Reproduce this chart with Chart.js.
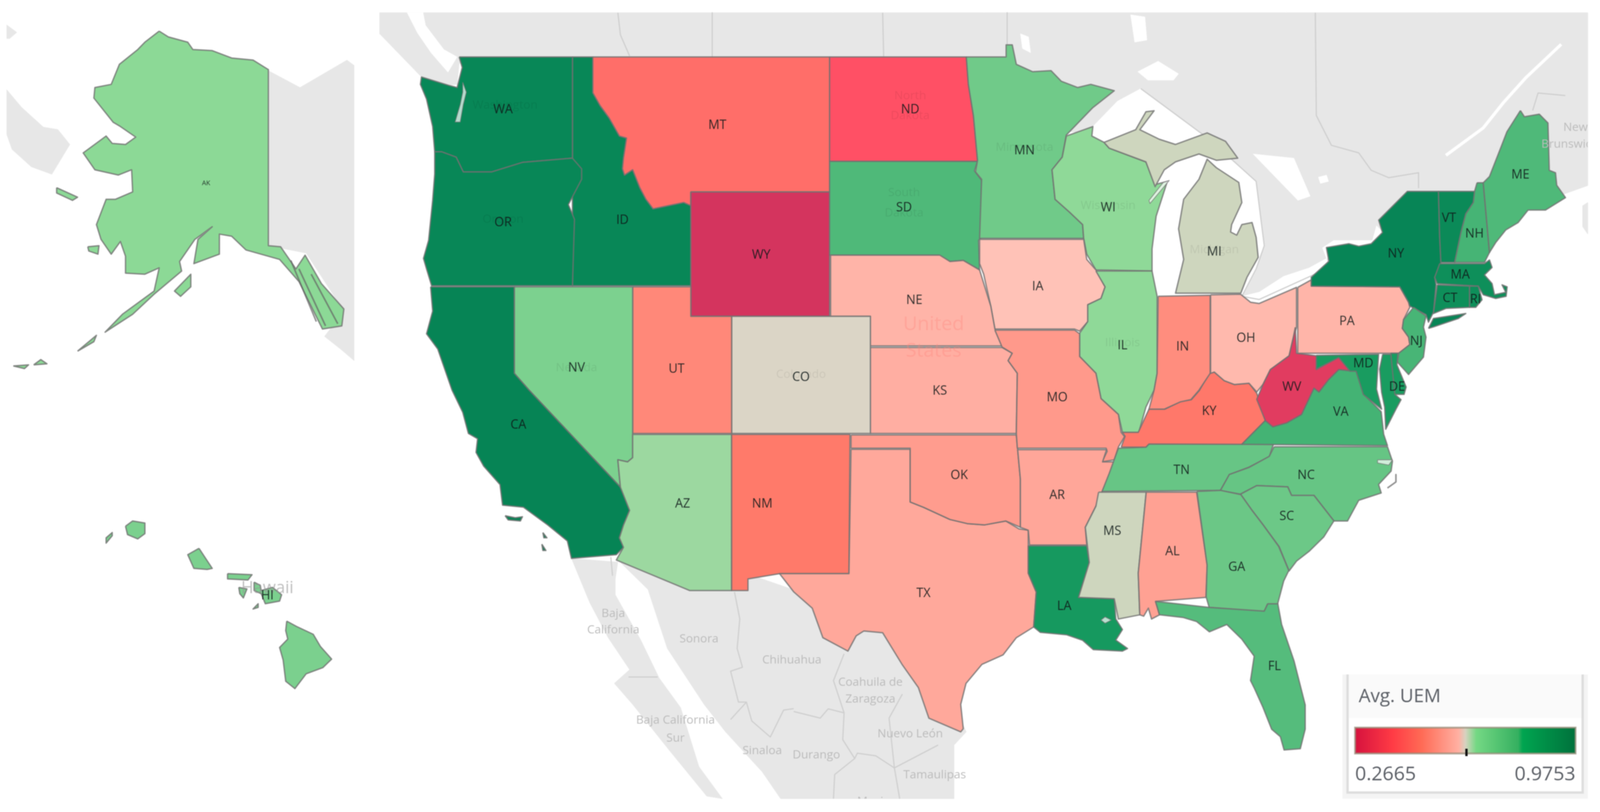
<!DOCTYPE html>
<html>
<head>
<meta charset="utf-8">
<title>Avg. UEM by state</title>
<script src="https://cdn.jsdelivr.net/npm/chart.js@4/dist/chart.umd.min.js"></script>
<style>
  html, body { margin: 0; padding: 0; background: #fff; overflow: hidden; }
  #map { display: block; filter: blur(1.3px); }
</style>
</head>
<body>
<canvas id="map"></canvas>
<script>
// Avg. UEM per state
const stateCodes = ['AK','AL','AR','AZ','CA','CO','CT','DE','FL','GA','HI','IA','ID','IL','IN','KS','KY','LA','MA','MD','ME','MI','MN','MO','MS','MT','NC','ND','NE','NH','NJ','NM','NV','NY','OH','OK','OR','PA','RI','SC','SD','TN','TX','UT','VA','VT','WA','WI','WV','WY'];
const avgUem = [0.6563,0.5585,0.5692,0.6493,0.9356,0.6209,0.8747,0.8016,0.7258,0.6982,0.6776,0.6110,0.9186,0.6549,0.5181,0.5855,0.4756,0.8194,0.8747,0.8016,0.7336,0.6266,0.6918,0.5429,0.6266,0.4529,0.7038,0.3870,0.5975,0.7450,0.7421,0.4791,0.6762,0.9300,0.6032,0.5486,0.9186,0.5996,0.8747,0.6967,0.7336,0.7031,0.5734,0.5075,0.7471,0.9023,0.9186,0.6549,0.3020,0.2665];
const uemMin = 0.2665;
const uemMax = 0.9753;
const uemMarker = 0.6246;

// colour ramp of the states (position on the legend, r, g, b)
const rampStops = [[0,212,52,94],[0.17,255,80,101],[0.3,255,122,106],[0.47,255,181,169],[0.49,255,197,186],[0.5,219,213,198],[0.55,140,217,150],[0.755,25,156,96],[1,0,125,82]];
const legendStops = [[0,'#d6123e'],[0.17,'#ff3b45'],[0.3,'#ff6a55'],[0.47,'#ffb0a2'],[0.5,'#d8d2c0'],[0.55,'#74d884'],[0.74,'#35b060'],[0.76,'#00a550'],[1,'#00713c']];

// outlines in map units (x, y, x, y ...), map is 1568 x 770 units
const outlines = {
  AK: [[156,29.5,165,35,184,40,189,47,208,48,227,55,248,57,263,66,263,233,275,234,290,255,299,242,315,269,337,293,335,309,316,312,293,267,274,246,241,237,227,224,215,222,215,241,190,250,194,227,208,215,191,227,176,248,178,257,151,279,130,298,103,315,120,298,151,276,156,254,142,260,123,259,123,243,118,229,109,241,99,227,94.5,213,104,189,113,189,130,182,129,161,116,166,93,161,81.5,145,104,129,110,136,123,137,133,130,118,120,111,116,92,93,93,83,109,80,117,61,135,47,142,40],
       [187,260,187,272,177,281,171,276],[55.5,178,76,187,71,190,55.5,183],[86,234,97,233,96,241,87,238],[76,333,94.5,318,92,324],[13,347,28,346,24,349.5],[33,346,40,341,46,345]],
  HI: [[123,499,130,494,142,496,142,506,135,511,125,507],[110,505,110,508,104,515,104,510],[195,520,208,539,203,540,190,539,184,526],[223,544,247,545,243,550,223,549],[234,557,242,558.5,238.5,567,235,563],[249,552,255,555,256,560,267,557,276,564,274,570,260,572.5,256,563,249,560],[253,572.5,253,576,248,577.5],[281,589,290.5,594,307,601.5,314,613,325,625,316.5,633,300,639,289,653,280,646,277.5,626,274,614,282,606,280,598]],
  ID: [[561,54,581,54,581,88,588,100,597,112,607,129,614,131,611,150,610,160,612,166,620,161,627,178,633,189,640,198,650,196,670,192,677,195,677,271,561,271]],
  WA: [[450,54,561,54,561,150,512,154,482,163,454,163,447,149,433,144,426,144,424,120,418,94,412,80,413,73,440,81,448,83,453,64]],
  OR: [[426,144,433,144,447,149,454,163,482,163,512,154,561,150,570,160,570,170,557,194,563,208,561,271,423,271,418,255,415,245,420,228,424,190,426,165]],
  MT: [[581,54,813,54,813,182,677,182,677,195,670,192,650,196,640,198,633,189,627,178,620,161,612,166,610,160,611,150,614,131,607,129,597,112,588,100,581,88]],
  WY: [[677,182,813,182,813,300,677,300]],
  ND: [[813,54,947,54,949,80,954,110,958,153,813,153]],
  SD: [[813,153,958,153,955,162,962,171,962,225,959,228,960,256,944,247,931,248,920,242,813,242]],
  MN: [[947,54,986,54,986,42.5,992,42.5,996,61,1012,68,1030,67,1040,77,1056,83,1069,80,1092,86,1071,102,1045,128,1041,149,1031,161,1034,189,1048,201,1061,213,1062,226,960,226,962,170,956,163,958,152,954,110,949,80]],
  WI: [[1045,129,1071,120,1070,129,1082,135,1087,140.5,1123,153.5,1132,175,1144,172,1133,205,1129,236,1129,257,1074,256,1065,241,1062,226,1061,213,1048,201,1034,189,1031,161,1041,149]],
  MI: [[1082,135,1113,123,1123,106,1131,105,1117,123,1136,132,1152,137,1183,126,1201,134,1213,150,1192,152,1175,146,1152,153.5,1141,161,1132,177,1123,153.5,1087,140.5],
       [1192,159,1214,173,1217,192,1207,213,1206,220,1212,223,1217,213,1227,211,1231,225,1233,244,1222,263,1216,278,1152,278,1160,246,1155,217,1160,189,1175,170,1183,151]],
  IA: [[960,227,1062,227,1065,246,1074,256,1083,272,1079,283,1066,289,1066,305,1058,314,1053,312,975,312,971,290.5,964,260,960,250]],
  IL: [[1074,257,1129,257,1134,281,1134,354,1131,370,1123,386,1116,410,1100,410,1096,393,1079,378,1074,354,1058,338,1058,316,1066,305,1066,289,1079,283,1083,272]],
  NE: [[814,242,921,242,931,248,944,247,960,256,971,290.5,975,312,982,328,853,328,853,300,814,300]],
  KS: [[853,329.5,982,329.5,992,335,988,342,997,354,996,411,853,411]],
  CO: [[717,300,853,300,853,411,717,411]],
  UT: [[620,272,677,272,677,300,717,300,717,411,620,411]],
  NV: [[504,272,620,272,620,434,615,438,605.5,436,608,462,518.5,370,504,354]],
  CA: [[422,272,504,272,504,354,518.5,370,608,462,617,484,611,498,607,510,611,519,604,526,560,529.5,556,513,537,498,513,481,492.5,479,490,459.5,474,442,466.5,429,468,416,459,411,453.5,391,443,370,429,331,418,316.5,424,295],
       [495,489,505,491,512,490,510,494,498,493],[532,505,536,510,533,510],[531,516,535,522,532,522]],
  AZ: [[620,412,717,412,717,560,676,560,604,531,611,519,607,510,611,498,617,484,608,462,605.5,436,615,438,620,434]],
  NM: [[717,412,833,412,832,544,764,544,733,549,733,560,717,560]],
  TX: [[834,426,892,426,892,476,905,481,931,492.6,948,496.5,965,497.7,985.6,494,998.6,501.5,1007.7,502.8,1007.7,543.6,1015.5,561.4,1013,594.5,996,604.7,983,621,962.3,630,946.7,648,941.5,668,944,691,941.5,694,910.3,681,900,652,884,630,865,600,846.6,598.3,839,603,831,617.4,806.4,604.7,796,576.7,778,561.4,764,544,832,544]],
  OK: [[834,412.4,996,412.4,1000,454.4,1000,500,985.6,494,965,497.7,948,496.5,931,492.6,905,481,892,476,892,425,834,425]],
  MO: [[975,313,1053,313,1058,316.5,1058,338,1074,354,1079,378,1096,393,1098.7,410,1102,414,1096,424,1092,436,1080,438,1085,428,1084,425,997,425,996,411,997,354,988,342,992,335,982,329]],
  AR: [[997.3,426.4,1084.4,426.4,1080.5,438,1092,438,1084.4,457,1074,480,1063.6,500,1065,516.8,1009,516.8,1007.7,502.8,1000,500,1000,454.4]],
  LA: [[1007.7,517.6,1065,517.6,1067.5,533.4,1057,566.5,1092,567.8,1093.5,587,1100,597,1093.5,607,1105,615,1100,617.4,1071.4,616,1061,607.2,1045.4,602,1019.4,599.6,1013,594.5,1015.5,561.4,1007.7,543.6]],
  MS: [[1076.6,466.7,1123.3,466.7,1115.5,543.6,1117,583,1096,587,1092,567.8,1057,566.5,1067.5,533.4,1063.6,500,1074,480]],
  AL: [[1123.3,466.7,1172.7,466.7,1183,536,1181.8,566.5,1132.4,570.3,1136.3,583,1128.5,587,1125.4,576.7,1120.8,584.3,1117,583,1115.5,543.6]],
  TN: [[1096,425,1123,424,1126,421,1248,421,1244,433,1224,443,1205,450,1196,465,1080,466,1087,449]],
  KY: [[1098.7,424,1102.6,413.7,1100,410,1115.5,410,1126,388,1141.5,388,1157,380.6,1167.5,379,1175.3,370.4,1185,354,1190,352.8,1199.8,361,1209.6,364.6,1224,363.4,1231.6,372.8,1237.7,390.6,1240,398.8,1226.7,411.8,1217,421.3,1126,421,1123,424]],
  IN: [[1135,281,1186,280,1186,354,1175,370,1167,379,1157,381,1141,388,1126,388,1131,370,1134,354]],
  OH: [[1186.4,279.6,1215.7,279,1225.5,286.6,1234,287.8,1270.6,272.5,1270.6,310.3,1267,322,1263.3,337.4,1245,350.4,1237.7,364.6,1231.6,371.7,1224,363.4,1209.6,364.6,1199.8,361,1190,352.8,1186.4,354]],
  VA: [[1323,351.6,1312,350.4,1302,360,1292.6,371.7,1287.7,368,1275.5,393,1260.8,401,1247.4,404.7,1240,398.8,1226.7,411.8,1217,421.3,1359.7,422.5,1356,411.8,1353.6,390.5,1336.5,374,1329,351.6]],
  WV: [[1269.4,310.3,1270.6,335,1290,337.4,1290,350.4,1312,338.6,1323,351.6,1312,350.4,1302,360,1292.6,371.7,1287.7,368,1275.5,393,1260.8,401,1247.4,404.7,1240,398.8,1231.6,378.7,1237.7,364.6,1245,350.4,1263.3,337.4,1267,322]],
  PA: [[1271.8,272.5,1285,265.4,1285,271.3,1371.9,272,1380.4,286.6,1381.6,291.4,1375.5,303,1374.3,311.4,1380.4,319.7,1381.6,326.8,1370.7,335,1271.8,335]],
  NY: [[1285,271.3,1285,263,1302.3,247.7,1299.9,234.7,1321.8,231.1,1331.6,233.5,1343.8,231.1,1354.8,220.5,1351.1,208.7,1379.2,181.5,1409.7,181.5,1410.9,225.2,1412.1,248.8,1406,263,1407.3,270,1404.8,296,1399.9,305.5,1397.5,298.4,1381.6,290.2,1380.4,286.6,1371.9,272],
       [1399.9,311.4,1404.8,302,1436.5,297.3,1429.2,302,1404.8,310]],
  VT: [[1409.7,181.5,1445.1,181.5,1443.9,192,1436.5,202.8,1431.7,220.5,1425.6,248.8,1412.1,248.8,1410.9,225.2]],
  NH: [[1447.5,173.3,1453.6,173.3,1459.7,239.4,1454.8,248.8,1425.6,248.8,1431.7,220.5,1436.5,202.8,1443.9,192,1445.1,181.5]],
  ME: [[1490,104.8,1493.9,110.7,1508.5,108.3,1517,116.6,1518.3,161.5,1524.4,163.8,1525.6,175.6,1534.2,187.4,1514.6,199.2,1497.5,199.2,1487.8,211,1475.6,218.1,1465.8,230,1459.7,239.4,1453.6,173.3,1459.7,167.4,1470.7,140.2,1476.8,124.9]],
  MA: [[1410.9,250,1454.8,250,1459.7,246.5,1462.2,253.6,1454.8,260.7,1462.2,268.9,1464.6,279.5,1475.6,277.2,1472,270.1,1477,272,1476,281,1465.8,283,1453.6,279.5,1448.7,271.3,1408.5,268.9,1406,263]],
  CT: [[1408.5,270.1,1440.2,271.3,1440.2,291.4,1417,292.5,1404.8,297.3]],
  RI: [[1440.2,271.3,1448.7,271.3,1452.4,284.3,1446.3,291.4,1440.2,291.4]],
  NJ: [[1385.3,291.4,1397.5,299.6,1395,310.2,1397.5,319.7,1395,338.6,1380.4,355.1,1369.4,343.3,1370.7,335,1381.6,326.8,1380.4,319.7,1374.3,311.4,1375.5,303]],
  DE: [[1363,335,1370,335,1369,346,1378,367,1376,374,1364,374]],
  MD: [[1290,337,1351,336,1349,369,1354,388,1336,374,1329,352,1323,352,1312,339,1290,350],[1355,336,1363,336,1367,374,1373,379,1368,388,1358,407,1357,386,1354,372,1352,350]],
  NC: [[1248.6,423.6,1359.7,423.6,1364.6,437.4,1363.3,446.7,1351,459.4,1353.6,467.5,1331.6,474.4,1320.6,494,1307.2,494,1287.7,469.8,1265.7,469.8,1262,461.7,1231.6,460.5,1215.7,468.6,1196,465.2,1204.7,450,1224.2,443.2,1243.8,432.8]],
  SC: [[1215.7,468.6,1231.6,460.5,1262,461.7,1265.7,469.8,1287.7,469.8,1307.2,494,1297.4,509,1282.8,522.9,1270.6,532.1,1263.3,541.4,1253.5,518.3,1237.7,497.5,1226.7,483.6]],
  GA: [[1173,466,1196,465,1216,469,1227,484,1238,498,1253,518,1263,541,1258,551,1252,573,1242,573,1239,580,1185,576,1182,566,1183,536]],
  FL: [[1132.4,570.3,1185.2,576,1238.9,579.5,1242.5,572.6,1252.3,572.6,1256,592.2,1268.2,626.9,1279.1,668.4,1279.1,691.5,1274.3,710,1258.4,711.2,1254.7,698.5,1246.2,691.5,1237.7,670.7,1229.1,652.3,1225.5,645.3,1229.1,622.2,1216.9,606,1202.3,592.2,1185.2,599.1,1172.7,589.4,1159.7,585.6,1136.3,583]]
};
const statePaintOrder = ['AK','HI','ID','WA','OR','MT','WY','ND','SD','MN','WI','MI','IA','IL','NE','KS','CO','UT','NV','CA','AZ','NM','TX','OK','MO','AR','LA','MS','AL','TN','KY','IN','OH','VA','WV','PA','NY','VT','NH','ME','MA','CT','RI','NJ','DE','MD','NC','SC','GA','FL'];

// base map behind the states
const landAreas = [
  [372,12,1556,12,1556,176,1530,185,1500,190,1400,205,1355,225,1300,250,1235,285,1215,285,1100,130,1000,120,450,60,448,80,440,81,412,72,372,32],
  [1551,195,1556,192,1556,222,1551,215],
  [560,529.5,578,571.6,596,604.7,617,635,602,648,620,668,656,711.6,692.6,755,708,757.4,685,727,667,671,646,643,628,607,603,564,603,549,605.5,533],
  [605.5,531,635,559,654,615,690,668,711,694,747,732,765,757.4,935,757.4,935,706.5,947,694,900,600,720,540],
  [263,67,294,83,340,57,347,62,347,342,335,332,318,319,337,295,300,240,263,233],
  [6.6,85,21,101.6,42.5,120.5,56.7,122.8,68.5,137,50.8,165.3,30.7,158.2,11.8,141.7,6.6,127.5],
  [6.6,23.6,16.5,30.7,9.4,36.6,6.6,36.6]
];
const waterAreas = [
  [1045,140,1069,122,1095,96,1118,84,1185,132,1231,172,1239,233,1231,255,1217,281,1234,277,1258,262,1283,254,1300,245,1305,275,1240,300,1200,290,1180,280,1100,250,1100,170],
  [1296,235,1307,228,1345,228,1349,214,1355,220,1354,232,1340,240,1300,245],
  [399,12,409,31,422.4,50,439,68.5,448,54,435,47,417,24,414.6,12],
  [1228,146,1268,150,1284,186,1272,190,1250,168],
  [1108,14,1122,16,1124,38,1112,40],
  [1115,68,1135,58,1155,70,1150,76,1125,76],
  [1000,32,1008,35,1010,50,1002,46],
  [1292,168,1300,166,1302,172,1294,174]
];
const inletAreas = [
  [453.5,78,457,87.4,454,99.2,451,115.7,446,115.7,451,99.2,453.5,87.4],
  [1146,171,1127,193,1126,190,1140,173],
  [1079,588,1083,585,1089,588,1083,591],
  [1350,436,1364.6,436,1361,441,1350,439]
];
const borderLines = [
  [605.5,12,608,33,617,53],[698,12,698,54],[865,12,866,54],[987,12,987,42],
  [1289,12,1290,109.5,1304.8,137.8,1331.6,145,1343.8,161.5,1360.9,168.5,1390.2,163.8,1390.2,178],
  [1502,104.8,1507.3,88.2,1534,90.6],[1118,84,1185,132,1231,172,1239,233,1231,255,1217,281,1234,284,1300,255],
  [719.8,561.4,725,586.9,722.4,614.9,727.6,632.7,716,636.5,723.7,665.8,731.5,665.8,736.7,683.6,754.9,698.9,767.9,673.4,777.8,672],
  [731.5,665.8,716,682.3],[615.9,642,644.5,642],[598.6,528.3,600.3,546],
  [777.8,674.7,803.8,681,811.6,672.2,827.2,676,825.9,701.4,837.6,719.3,840.2,714.2,858.3,716.7,876.5,728.2,881.7,757.4],
  [876.5,728.2,919.4,706.5],[837.6,719.3,818,734.5,816.8,757.4],[827.2,620,816.8,645.4,827.2,676],[884.3,658.2,871.3,681,876.5,728.2]
];
const riverLines = [[1530,42,1495,74,1473,97.7,1453.6,121.3,1417,147.3]];
const detailLines = [[293,255,319,309],[305,260,331,307],[285,247,310,305],[1368,450,1368,457,1359.7,462.8]];

// label positions in map units
const stateLabelX = [202,1149,1036,669,508,785,1421,1369,1249,1212,262,1017,610,1100,1159,921,1185,1043,1431,1336,1490,1190,1004,1036,1090,703,1280,892,896,1445,1388,747,565,1368,1221,940,493,1320,1446,1261,886,1158,905,663,1314,1420,493,1086,1266,746];
const stateLabelY = [174,523,470,478,403,358,283,367,632,538,565,272,209,328,329,371,390,575,261,345,166,239,143,377,504,119,451,104,285,222,324,478,349,241,321,451,211,305,284,490,197,446,563,350,391,207,104,197,367,242];
const mapTexts = ['Baja','California','Sonora','Chihuahua','Coahuila de','Zaragoza','Nuevo León','Durango','Sinaloa','Tamaulipas','Mexico','Baja California','Sur','New','Brunswick'];
const mapTextX = [601,601,685,776,853,853,892,800,747,916,859,662,662,1544,1538];
const mapTextY = [582,597.5,606,626,647,663,696,716,712,735,760,683,700,121,137];
const faintTexts = ['Washington','Oregon','North','Dakota','South','Dakota','Minnesota','Wisconsin','Illinois','Nevada','Colorado','Michigan'];
const faintTextX = [495,493,892,892,886,886,1004,1086,1100,565,785,1190];
const faintTextY = [100,208,91,110,183,202,140,195,325,349,355,237];

// the window can come out narrower than asked, so fill what is there
const canvas = document.getElementById('map');
canvas.width = window.innerWidth;
canvas.height = window.innerHeight;
const k = canvas.width / 4233;

function toPoints(flat) {
  const pts = [];
  for (let i = 0; i < flat.length; i += 2) pts.push({ x: flat[i], y: flat[i + 1] });
  pts.push({ x: flat[0], y: flat[1] });
  return pts;
}
function toLine(flat) {
  const pts = [];
  for (let i = 0; i < flat.length; i += 2) pts.push({ x: flat[i], y: flat[i + 1] });
  return pts;
}
function uemColor(v) {
  const t = (v - uemMin) / (uemMax - uemMin);
  for (let i = 1; i < rampStops.length; i++) {
    const a = rampStops[i - 1], b = rampStops[i];
    if (t <= b[0]) {
      const f = (t - a[0]) / (b[0] - a[0]);
      return `rgb(${Math.round(a[1] + (b[1] - a[1]) * f)},${Math.round(a[2] + (b[2] - a[2]) * f)},${Math.round(a[3] + (b[3] - a[3]) * f)})`;
    }
  }
  return 'rgb(0,125,82)';
}
function area(flat, fillColor, lineColor, lineWidth, label) {
  return { label, data: toPoints(flat), fill: 'shape', backgroundColor: fillColor, borderColor: lineColor, borderWidth: lineWidth, showLine: true, tension: 0, pointRadius: 0, borderJoinStyle: 'round' };
}
function line(flat, lineColor, lineWidth) {
  return { data: toLine(flat), fill: false, borderColor: lineColor, borderWidth: lineWidth, showLine: true, tension: 0, pointRadius: 0, borderJoinStyle: 'round' };
}

// paint order: first pushed is at the bottom
const layers = [];
landAreas.forEach(p => layers.push(area(p, '#e7e7e7', '#e7e7e7', 1)));
waterAreas.forEach(p => layers.push(area(p, '#ffffff', '#ffffff', 1)));
riverLines.forEach(p => layers.push(line(p, '#ffffff', 8)));
borderLines.forEach(p => layers.push(line(p, '#cfcfcf', 3)));
statePaintOrder.forEach(code => {
  const color = uemColor(avgUem[stateCodes.indexOf(code)]);
  outlines[code].forEach(p => layers.push(area(p, color, 'rgba(112,112,112,0.8)', 3.5, code)));
});
inletAreas.forEach(p => layers.push(area(p, 'rgba(255,255,255,0.7)', 'rgba(120,120,120,0.8)', 2)));
detailLines.forEach(p => layers.push(line(p, 'rgba(100,100,100,0.7)', 4)));

function font(size) {
  return Math.round(size * k) + 'px "Open Sans"';
}

const mapTextPlugin = {
  id: 'mapText',
  afterDatasetsDraw(chart) {
    const { ctx, scales: { x, y } } = chart;
    const px = v => x.getPixelForValue(v);
    const py = v => y.getPixelForValue(v);
    ctx.save();
    ctx.textAlign = 'center';
    ctx.textBaseline = 'middle';

    // base map labels stay inside the main map panel
    ctx.save();
    ctx.beginPath();
    ctx.rect(px(372), py(12), px(1556) - px(372), py(757.4) - py(12));
    ctx.clip();
    ctx.font = font(31);
    ctx.fillStyle = '#bcbcbc';
    mapTexts.forEach((t, i) => ctx.fillText(t, px(mapTextX[i]), py(mapTextY[i])));
    ctx.restore();

    ctx.font = font(31);
    ctx.fillStyle = 'rgba(0,0,0,0.07)';
    faintTexts.forEach((t, i) => ctx.fillText(t, px(faintTextX[i]), py(faintTextY[i])));
    ctx.font = font(52);
    ctx.fillStyle = 'rgba(255,135,125,0.35)';
    ctx.fillText('United', px(915), py(308));
    ctx.fillText('States', px(915), py(333));
    ctx.font = font(44);
    ctx.fillStyle = 'rgba(150,150,150,0.6)';
    ctx.fillText('Hawaii', px(262), py(558));

    stateCodes.forEach((code, i) => {
      ctx.font = code === 'AK' ? font(18) : font(33);
      ctx.fillStyle = 'rgba(15,25,25,0.85)';
      ctx.fillText(code, px(stateLabelX[i]), py(stateLabelY[i]));
    });

    // legend
    const boxL = px(1320.6), boxT = py(639.6), boxW = px(1551) - boxL, boxH = py(751.6) - boxT;
    ctx.fillStyle = '#f4f4f4';
    ctx.fillRect(px(1315.6), boxT, px(1556) - px(1315.6), py(757.4) - boxT);
    ctx.fillStyle = '#ffffff';
    ctx.fillRect(boxL, boxT, boxW, boxH);
    ctx.fillStyle = '#fafafa';
    ctx.fillRect(boxL, boxT, boxW, py(681) - boxT);
    ctx.strokeStyle = '#dddddd';
    ctx.lineWidth = 6;
    ctx.beginPath();
    ctx.moveTo(boxL, boxT);
    ctx.lineTo(boxL, boxT + boxH);
    ctx.lineTo(boxL + boxW, boxT + boxH);
    ctx.lineTo(boxL + boxW, boxT);
    ctx.stroke();

    const barL = px(1328), barR = px(1544), barT = py(690), barB = py(714.5);
    const grad = ctx.createLinearGradient(barL, 0, barR, 0);
    legendStops.forEach(s => grad.addColorStop(s[0], s[1]));
    ctx.fillStyle = grad;
    ctx.fillRect(barL, barT, barR - barL, barB - barT);
    ctx.strokeStyle = 'rgba(150,140,120,0.7)';
    ctx.lineWidth = 5;
    ctx.strokeRect(barL, barT, barR - barL, barB - barT);
    const markX = barL + (uemMarker - uemMin) / (uemMax - uemMin) * (barR - barL);
    ctx.fillStyle = '#111';
    ctx.fillRect(markX - 3, py(710), 6, py(717) - py(710));

    ctx.fillStyle = '#5b5f66';
    ctx.textBaseline = 'alphabetic';
    ctx.textAlign = 'left';
    ctx.font = font(50);
    ctx.fillText('Avg. UEM', px(1331.5), py(666));
    ctx.font = font(52);
    ctx.fillText(uemMin.toFixed(4), px(1328), py(740));
    ctx.textAlign = 'right';
    ctx.fillText(uemMax.toFixed(4), px(1544), py(740));
    ctx.restore();
  }
};

new Chart(canvas, {
  type: 'scatter',
  // Chart.js paints the first dataset last
  data: { datasets: layers.slice().reverse() },
  options: {
    responsive: false,
    animation: false,
    devicePixelRatio: 1,
    layout: { padding: 0 },
    plugins: { legend: { display: false }, tooltip: { enabled: false } },
    scales: {
      x: { type: 'linear', min: 0, max: 1568, display: false },
      y: { type: 'linear', min: 0, max: 770, reverse: true, display: false }
    }
  },
  plugins: [mapTextPlugin]
});
</script>
</body>
</html>
